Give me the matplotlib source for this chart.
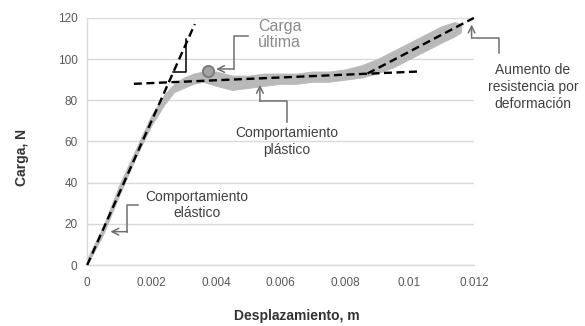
import matplotlib
matplotlib.use("Agg")
import matplotlib.pyplot as plt

plt.rcParams.update({
    "font.family": ["Liberation Sans", "DejaVu Sans"],
    "figure.facecolor": "white", "axes.facecolor": "white",
})

GRID = "#d9d9d9"; TICK = "#595959"; BAND = "#b9b9b9"; LINK = "#6f6f6f"; TXT = "#404040"

# gray test record (band envelope)
band_x = [0, 0.0005, 0.001, 0.0015, 0.002, 0.0024, 0.0027, 0.003, 0.0033, 0.0036, 0.004,
          0.0045, 0.005, 0.0055, 0.006, 0.0065, 0.007, 0.0075, 0.008, 0.0085, 0.009,
          0.0095, 0.01, 0.0105, 0.011, 0.0114, 0.0116]
band_hi = [3, 19, 39, 56, 73, 83, 88, 91, 93, 94, 94, 92, 92, 93, 93, 93, 94, 94, 95, 97,
           100, 104, 108, 112, 116, 118, 117]
band_lo = [0, 15, 34, 52, 68, 78, 84, 86, 88, 89, 87, 85, 86, 87, 88, 88, 89, 89, 90, 91,
           93, 96, 100, 104, 108, 111, 113]

# dashed fit lines
elastic_x = [0, 0.00334]; elastic_y = [0, 117]
plastic_x = [0.00145, 0.0103]; plastic_y = [88, 94]
harden_x = [0.0087, 0.012]; harden_y = [93, 120]

# slope triangle
tri_x = [0.00267, 0.00308, 0.00308]; tri_y = [93.6, 93.6, 110]

ult_x = 0.00375; ult_y = 94.4

xticks = [0, 0.002, 0.004, 0.006, 0.008, 0.010, 0.012]
xtick_labels = ["0", "0.002", "0.004", "0.006", "0.008", "0.01", "0.012"]
yticks = [0, 20, 40, 60, 80, 100, 120]

fig = plt.figure(figsize=(5.85, 3.26), dpi=100)
ax = fig.add_axes([0.149, 0.187, 0.661, 0.758])

ax.fill_between(band_x, band_lo, band_hi, color=BAND, lw=0.6, edgecolor=BAND, zorder=2)
for xs, ys in [(elastic_x, elastic_y), (plastic_x, plastic_y), (harden_x, harden_y)]:
    ax.plot(xs, ys, color="black", lw=1.7, ls=(0, (3.4, 1.9)), zorder=4, clip_on=False)
ax.plot(tri_x, tri_y, color="black", lw=1.1, zorder=4)
ax.plot([ult_x], [ult_y], "o", ms=8, mfc="#a3a3a3", mec="#7a7a7a", mew=1.4, zorder=5)


def link(path, tip, clip=True):
    xs = [p[0] for p in path]; ys = [p[1] for p in path]
    ax.plot(xs, ys, color=LINK, lw=1.1, zorder=3, clip_on=clip)
    ax.annotate("", xy=tip, xytext=path[-1], zorder=3, annotation_clip=False,
                arrowprops=dict(arrowstyle="->", color=LINK, lw=1.1,
                                shrinkA=0, shrinkB=0, mutation_scale=12))


# Carga ultima
link([(0.00498, 111), (0.00455, 111), (0.00455, 95.2)], (0.00400, 95.2))
ax.text(0.0053, 112, "Carga\núltima", fontsize=11.5, color="#8a8a8a",
        ha="left", va="center", linespacing=1.1)

# Comportamiento plastico
link([(0.0062, 69.5), (0.0062, 79.5), (0.00536, 79.5)], (0.00536, 87.5))
ax.text(0.0062, 60, "Comportamiento\nplástico", fontsize=10, color=TXT,
        ha="center", va="center", linespacing=1.2)

# Comportamiento elastico
link([(0.00159, 29.2), (0.00125, 29.2), (0.00125, 16.2)], (0.00072, 16.2))
ax.text(0.00341, 29.2, "Comportamiento\nelástico", fontsize=10, color=TXT,
        ha="center", va="center", linespacing=1.2)

# Aumento de resistencia
link([(0.01277, 103), (0.01277, 110.3), (0.01193, 110.3)], (0.01193, 116.8), clip=False)
ax.text(0.01383, 86.5, "Aumento de\nresistencia por\ndeformación", fontsize=10,
        color=TXT, ha="center", va="center", linespacing=1.25)

ax.set_xlim(0, 0.012); ax.set_ylim(0, 120)
ax.set_xticks(xticks); ax.set_xticklabels(xtick_labels)
ax.set_yticks(yticks)
ax.tick_params(length=0, labelsize=8.5, labelcolor=TICK)
ax.tick_params(axis="x", pad=8.5)
ax.tick_params(axis="y", pad=7)
ax.grid(axis="y", color=GRID, lw=1.0, zorder=0)
ax.set_axisbelow(True)
for s in ["top", "right"]:
    ax.spines[s].set_visible(False)
for s in ["left", "bottom"]:
    ax.spines[s].set_color(GRID); ax.spines[s].set_linewidth(1.0)

fig.text(297 / 585, 1 - 316 / 326, "Desplazamiento, m", fontsize=10, fontweight="bold",
         color="#333333", ha="center", va="center")
fig.text(22 / 585, 1 - 157 / 326, "Carga, N", fontsize=10, fontweight="bold",
         color="#333333", ha="center", va="center", rotation=90)

fig.savefig("out.png", dpi=100)
